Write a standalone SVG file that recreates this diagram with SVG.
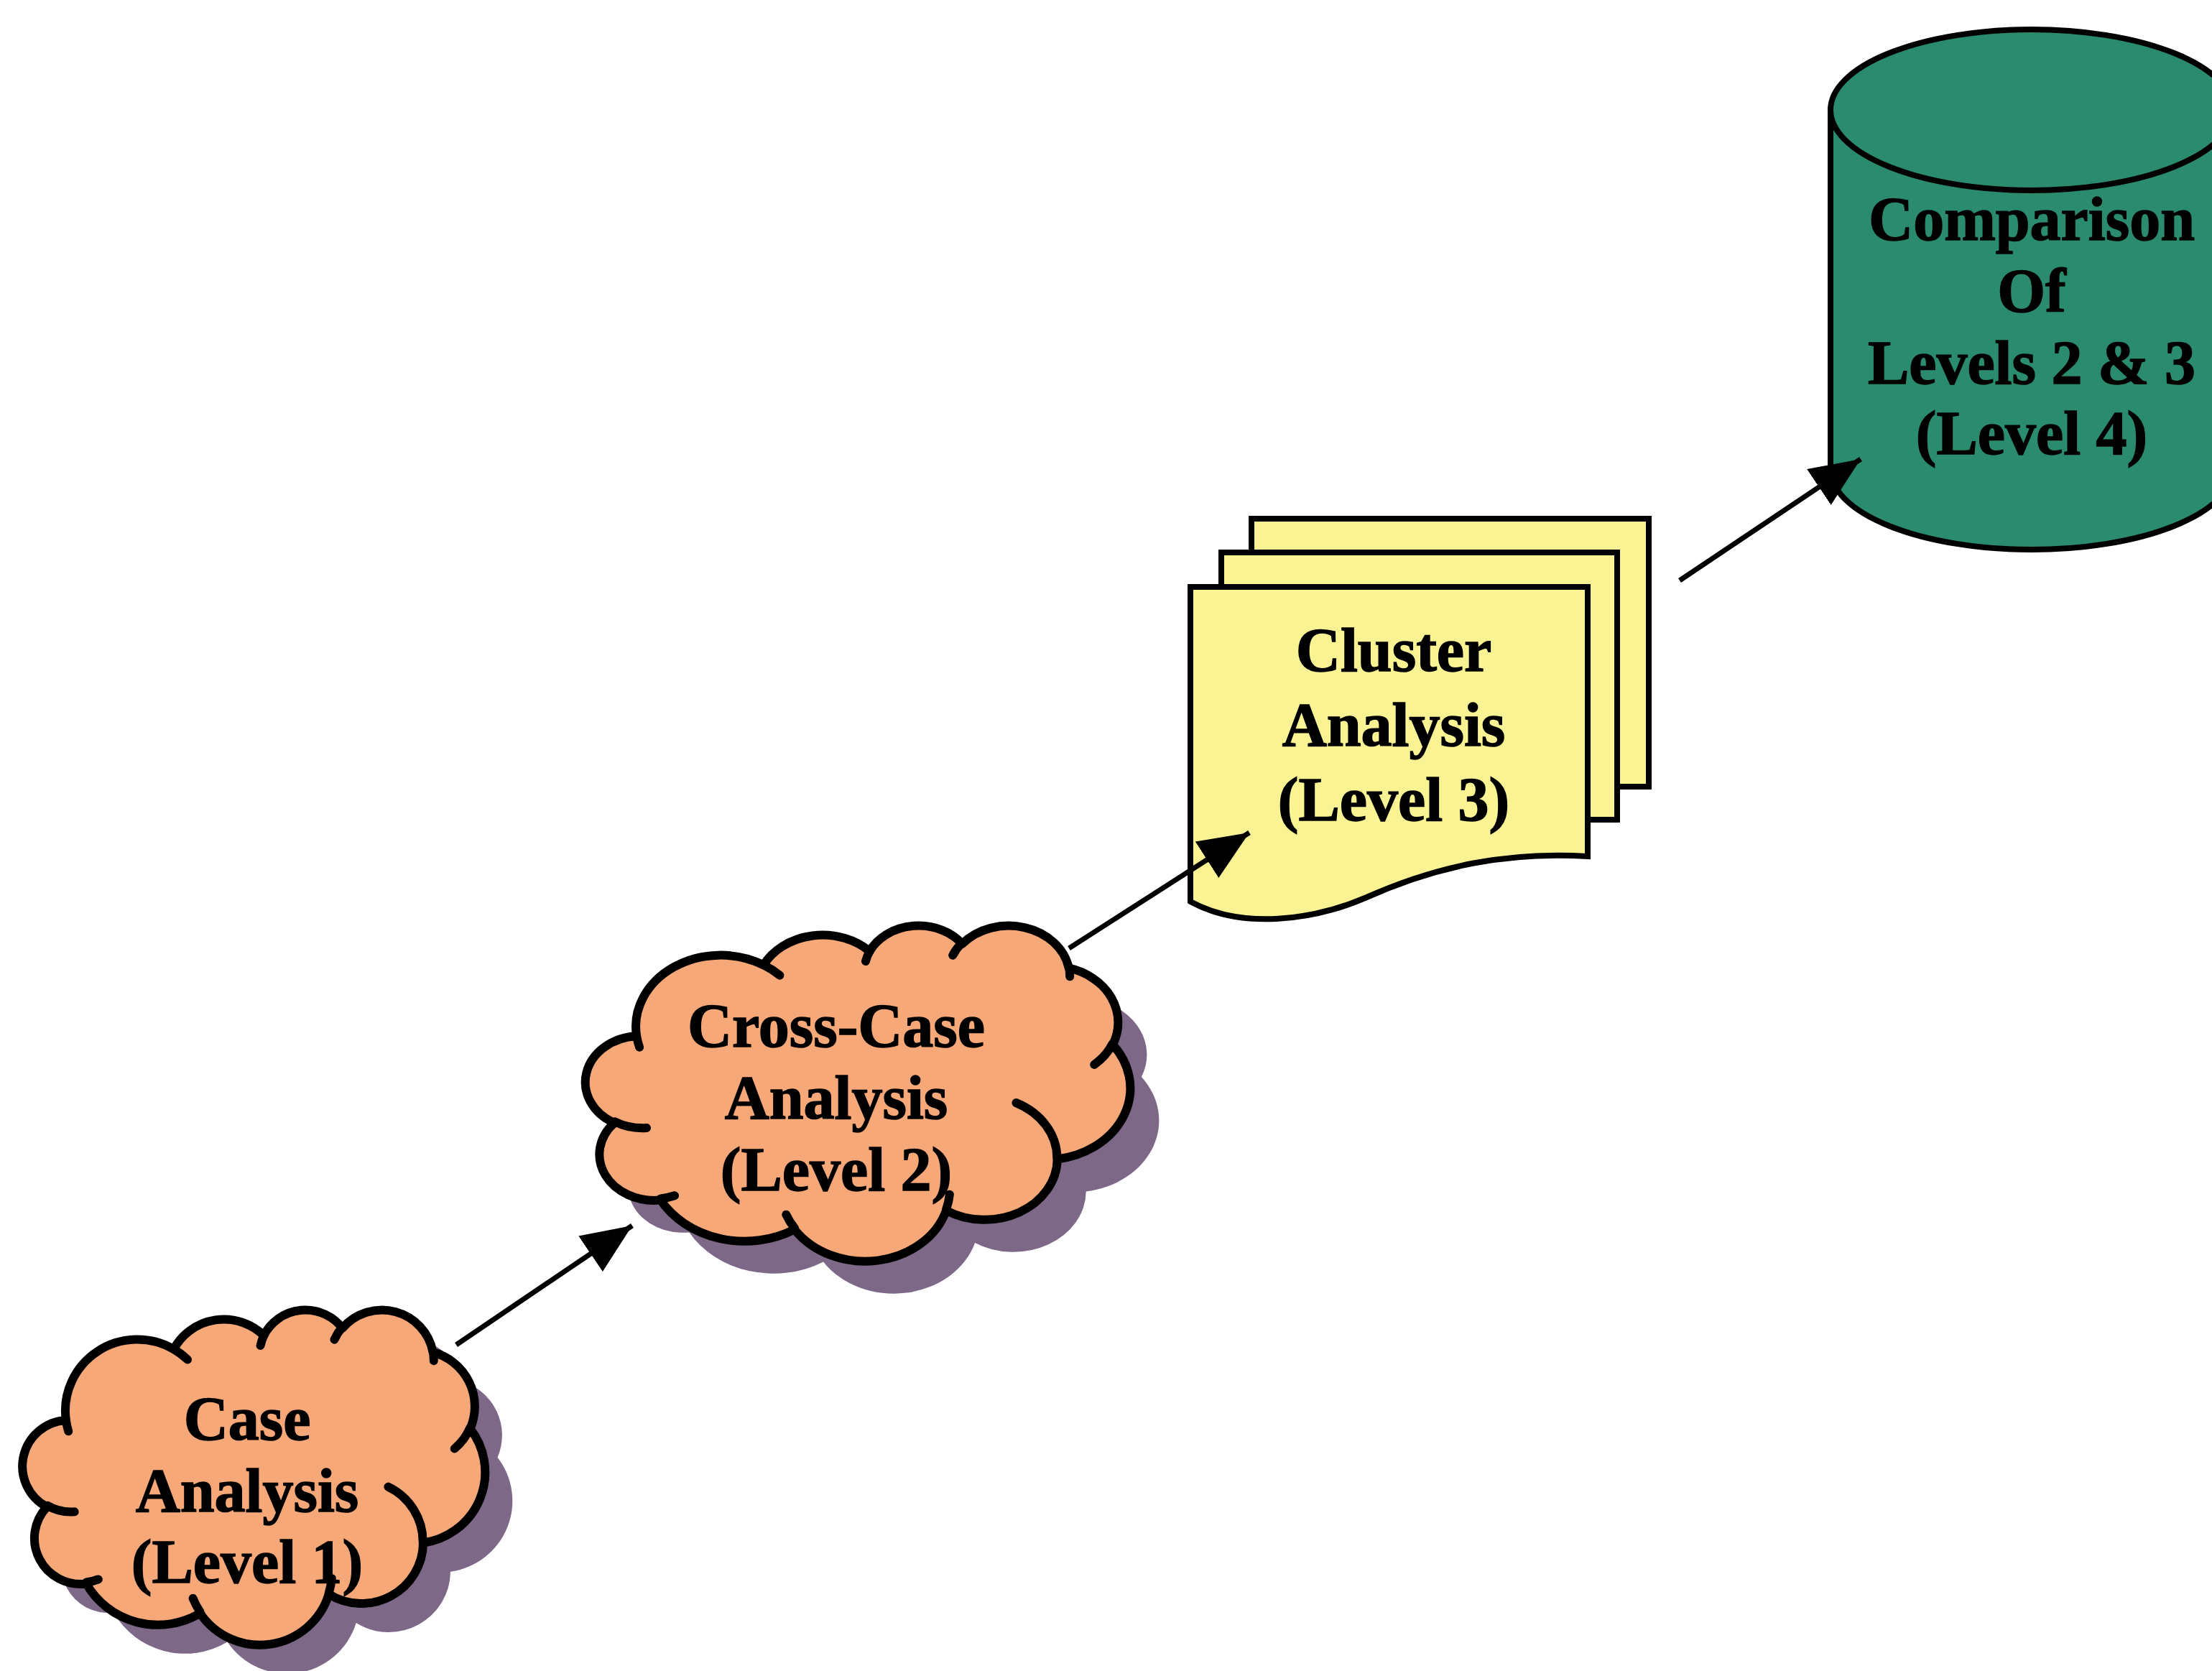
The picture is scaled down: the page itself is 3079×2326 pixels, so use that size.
<svg xmlns="http://www.w3.org/2000/svg" xmlns:xlink="http://www.w3.org/1999/xlink" width="3079" height="2326" viewBox="0 0 3079 2326">
<style>
.bg{fill:#ffffff}
.cloud{fill:#f6a879;stroke:#000;stroke-width:12;stroke-linejoin:round}
.cloudIn{fill:none;stroke:#000;stroke-width:12;stroke-linecap:round}
.shadow{fill:#7d6888;stroke:none}
.page{fill:#f9f393;stroke:#000;stroke-width:8;stroke-linejoin:miter}
.cyl{fill:#2b8b6f;stroke:#000;stroke-width:8}
.lbl{font-family:"Liberation Serif","Times New Roman",serif;font-weight:bold;font-size:86px;fill:#000;stroke:#000;stroke-width:1.5;text-anchor:middle}
.conn{stroke:#000;stroke-width:7;fill:none}
</style>
<defs>
<path id="cloudO" vector-effect="non-scaling-stroke" d="M3900,14370 A6753,9190 0 0 1 14005,5203 A5333,7267 0 0 1 22456,3432 A4365,5945 0 0 1 29833,2481 A4857,6595 0 0 1 38318,5576 A5333,7273 0 0 1 41818,15459 A6775,9220 0 0 1 37404,30202 A5785,7867 0 0 1 28556,36812 A6752,9215 0 0 1 16481,39265 A7720,10543 0 0 1 5804,35470 A4360,5918 0 0 1 2113,25550 A4345,5945 0 0 1 3900,14370 Z"/>
<path id="cloudI" vector-effect="non-scaling-stroke" d="M4693,26177 A4345,5945 0 0 1 2160,25380 M6928,34899 A4360,5918 0 0 1 5819,35280 M16478,39090 A6752,9215 0 0 1 15810,37348 M28827,34751 A6752,9215 0 0 1 28560,36660 M34129,22954 A5785,7867 0 0 1 37381,30090 M41798,15354 A5333,7273 0 0 1 40350,18030 M38324,5426 A4857,6595 0 0 1 38400,6690 M29078,3952 A4857,6595 0 0 1 29820,2340 M22141,4720 A4365,5945 0 0 1 22500,3330 M14000,5192 A6753,9190 0 0 1 15299,6540 M4127,15789 A6753,9190 0 0 1 3901,14369"/>
<marker id="ah" markerUnits="userSpaceOnUse" markerWidth="72" markerHeight="62" refX="70" refY="30" orient="auto" viewBox="0 0 72 62">
<path d="M0,0 L70,30 L0,60 Z" fill="#000"/>
</marker>
</defs>
<rect class="bg" x="0" y="0" width="3079" height="2326"/>

<g id="node-case">
<use xlink:href="#cloudO" class="shadow" transform="translate(72,1862) scale(0.014838,0.010787)"/>
<use xlink:href="#cloudO" class="cloud" transform="translate(34,1822) scale(0.014838,0.010787)"/>
<use xlink:href="#cloudI" class="cloudIn" transform="translate(34,1822) scale(0.014838,0.010787)"/>
<text class="lbl" x="344" y="2004">Case</text>
<text class="lbl" x="344" y="2104">Analysis</text>
<text class="lbl" x="344" y="2203">(Level 1)</text>
</g>

<g id="node-crosscase">
<use xlink:href="#cloudO" class="shadow" transform="translate(858,1332) scale(0.017477,0.01081)"/>
<use xlink:href="#cloudO" class="cloud" transform="translate(818,1287) scale(0.017477,0.01081)"/>
<use xlink:href="#cloudI" class="cloudIn" transform="translate(818,1287) scale(0.017477,0.01081)"/>
<text class="lbl" x="1164" y="1457">Cross-Case</text>
<text class="lbl" x="1164" y="1557">Analysis</text>
<text class="lbl" x="1164" y="1657">(Level 2)</text>
</g>

<g id="node-cluster">
<rect class="page" x="1742" y="722" width="553" height="373"/>
<rect class="page" x="1700" y="769" width="551" height="372"/>
<path class="page" d="M1657,817 H2210 V1192 C2100,1185 2000,1205 1900,1250 C1830,1280 1730,1295 1657,1255 Z"/>
<text class="lbl" x="1940" y="934">Cluster</text>
<text class="lbl" x="1940" y="1038">Analysis</text>
<text class="lbl" x="1940" y="1142">(Level 3)</text>
</g>

<g id="node-comparison">
<path class="cyl" d="M2548,153 V653 A280,112 0 0 0 3108,653 V153 Z"/>
<ellipse class="cyl" cx="2828" cy="153" rx="280" ry="112"/>
<text class="lbl" x="2828" y="334">Comparison</text>
<text class="lbl" x="2828" y="434">Of</text>
<text class="lbl" x="2828" y="534">Levels 2 &amp; 3</text>
<text class="lbl" x="2828" y="632">(Level 4)</text>
</g>

<g id="connectors">
<line class="conn" x1="635" y1="1872" x2="880" y2="1706" marker-end="url(#ah)"/>
<line class="conn" x1="1488" y1="1320" x2="1739" y2="1159" marker-end="url(#ah)"/>
<line class="conn" x1="2338" y1="808" x2="2590" y2="639" marker-end="url(#ah)"/>
</g>
</svg>
